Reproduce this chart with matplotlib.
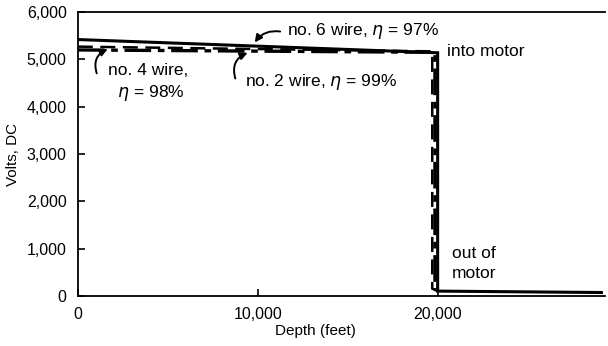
import matplotlib.pyplot as plt
from matplotlib.ticker import FuncFormatter

plt.rcParams['font.family'] = ['Liberation Sans', 'DejaVu Sans']

# depth (feet) and voltage for each wire size
depth_no6 = [0, 20000, 20000, 29100]
volts_no6 = [5420, 5140, 100, 70]

depth_no4 = [0, 19700, 19700, 20000]
volts_no4 = [5270, 5170, 150, 120]

depth_no2 = [0, 19850, 19850, 20000]
volts_no2 = [5200, 5150, 130, 120]

fig = plt.figure(figsize=(6.08, 3.46), dpi=100)
ax = fig.add_axes([0.128, 0.145, 0.867, 0.82])

ax.plot(depth_no6, volts_no6, color='black', lw=2.2, solid_joinstyle='miter')
ax.plot(depth_no4, volts_no4, color='black', lw=1.8, ls=(0, (6, 3)))
ax.plot(depth_no2, volts_no2, color='black', lw=2.4, ls=(0, (8, 2, 2, 2)))

ax.set_xlim(0, 29300)
ax.set_ylim(0, 6000)
ax.set_xticks([0, 10000, 20000])
ax.set_yticks(range(0, 7000, 1000))
fmt = FuncFormatter(lambda v, p: f'{int(v):,}')
ax.xaxis.set_major_formatter(fmt)
ax.yaxis.set_major_formatter(fmt)
ax.tick_params(direction='in', length=5, width=1.2, labelsize=11.5, pad=8)
ax.spines['right'].set_visible(False)
for s in ['left', 'bottom', 'top']:
    ax.spines[s].set_linewidth(1.3)

ax.set_xlabel('Depth (feet)', fontsize=11)
ax.set_ylabel('Volts, DC', fontsize=11)
ax.xaxis.set_label_coords(0.45, -0.1)
ax.yaxis.set_label_coords(-0.11, 0.5)

kw = dict(fontsize=12.5, color='black')
arrow = dict(arrowstyle='-|>', color='black', lw=1.4, mutation_scale=11)

# labels
ax.text(11600, 5590, 'no. 6 wire, $\\eta$ = 97%', va='center', **kw)
ax.text(1650, 4500, 'no. 4 wire,\n  $\\eta$ = 98%', va='center', linespacing=1.4, **kw)
ax.text(9300, 4530, 'no. 2 wire, $\\eta$ = 99%', va='center', **kw)
ax.text(20500, 5160, 'into motor', va='center', **kw)
ax.text(20780, 680, 'out of\nmotor', va='center', linespacing=1.4, **kw)

# curved pointers
ax.annotate('', xy=(9750, 5310), xytext=(11400, 5580),
            arrowprops=dict(connectionstyle='arc3,rad=0.35', **arrow))
ax.annotate('', xy=(1800, 5240), xytext=(1100, 4650),
            arrowprops=dict(connectionstyle='arc3,rad=-0.5', **arrow))
ax.annotate('', xy=(9580, 5160), xytext=(8800, 4540),
            arrowprops=dict(connectionstyle='arc3,rad=-0.5', **arrow))

fig.savefig('out.png', dpi=100)
